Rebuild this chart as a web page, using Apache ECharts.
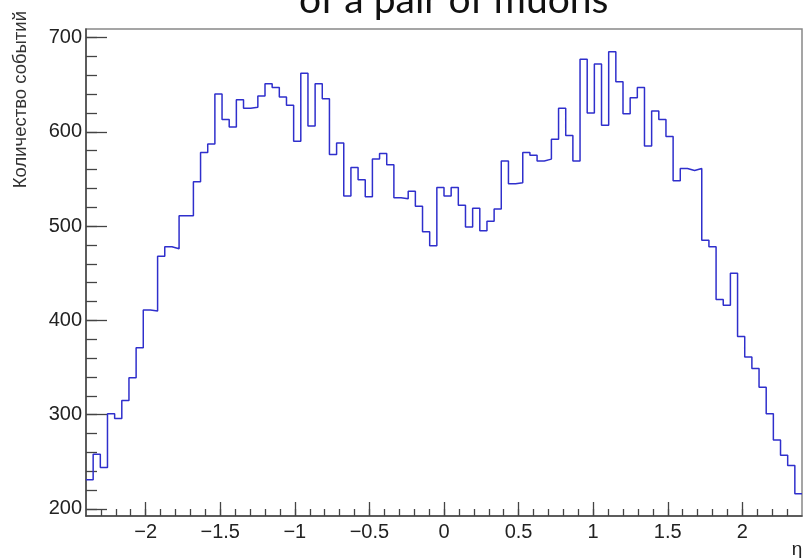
<!DOCTYPE html>
<html>
<head>
<meta charset="utf-8">
<script src="https://cdn.jsdelivr.net/npm/echarts@6/dist/echarts.min.js"></script>
<style>
html,body{margin:0;padding:0;background:#fff;}
#chart{width:803px;height:558px;}
</style>
</head>
<body>
<div id="chart"></div>
<script>
// Histogram of eta, 100 bins from -2.4 to 2.4
const binMin = -2.4;
const binMax = 2.4;
const counts = [
  231, 258, 244, 301, 296, 315, 339, 371, 411, 410,
  468, 478, 476, 511, 511, 547, 578, 587, 640, 613,
  605, 634, 625, 626, 638, 651, 647, 637, 628, 590,
  662, 606, 651, 635, 576, 588, 532, 562, 549, 531,
  571, 577, 565, 530, 529, 537, 521, 494, 479, 541,
  532, 541, 522, 499, 519, 495, 505, 518, 569, 545,
  546, 578, 575, 569, 571, 592, 625, 596, 569, 677,
  620, 672, 607, 685, 653, 619, 636, 647, 585, 622,
  613, 595, 548, 561, 559, 561, 485, 478, 422, 416,
  450, 383, 361, 349, 329, 301, 273, 257, 246, 216
];
const xMajorTicks = [-2, -1.5, -1, -0.5, 0, 0.5, 1, 1.5, 2];
const yMajorTicks = [200, 300, 400, 500, 600, 700];
const yRange = [192.5, 709];
const titleText = 'of a pair of muons';
const yTitle = 'Количество событий';
const xTitle = 'η';

const nb = counts.length;
const w = (binMax - binMin) / nb;
const data = counts.map((v, i) => [binMin + i * w, v]);
data.push([binMax, counts[nb - 1]]);

const xMinor = [];
for (let k = -23; k <= 23; k++) xMinor.push(k / 10);
const yMinor = [];
for (let v = 200; v <= 700; v += 20) yMinor.push(v);

const fmtX = v => {
  const r = Math.round(v * 10) / 10;
  return r < 0 ? '\u2212' + Math.abs(r) : String(r);
};

const axisCol = '#444';
const font = 'Liberation Sans, Arial, sans-serif';

const chart = echarts.init(document.getElementById('chart'), null, {renderer: 'canvas'});
chart.setOption({
  animation: false,
  backgroundColor: '#fff',
  title: {
    text: titleText,
    left: 294,
    top: -24,
    textStyle: {fontFamily: 'Lato, sans-serif', fontSize: 39, fontWeight: 'normal', color: '#111', lineHeight: 39}
  },
  grid: {
    left: 86, right: 1, top: 29, bottom: 42,
    show: true, borderColor: '#888', borderWidth: 1.5, backgroundColor: 'transparent',
    outerBoundsMode: 'none'
  },
  xAxis: [{
    type: 'value', min: binMin, max: binMax, position: 'bottom',
    axisLine: {onZero: false, lineStyle: {color: axisCol, width: 1.5}},
    axisTick: {inside: true, length: 14, customValues: xMajorTicks, lineStyle: {color: axisCol, width: 1.3}},
    axisLabel: {customValues: xMajorTicks, formatter: fmtX, margin: 6, fontSize: 20, fontFamily: font, color: '#222'},
    splitLine: {show: false}
  }, {
    type: 'value', min: binMin, max: binMax, position: 'bottom',
    axisLine: {show: false, onZero: false},
    axisTick: {inside: true, length: 7, customValues: xMinor, lineStyle: {color: axisCol, width: 1.3}},
    axisLabel: {show: false},
    splitLine: {show: false}
  }],
  yAxis: [{
    type: 'value', min: yRange[0], max: yRange[1], position: 'left',
    axisLine: {show: true, onZero: false, lineStyle: {color: axisCol, width: 1.5}},
    axisTick: {show: true, inside: true, length: 21, customValues: yMajorTicks, lineStyle: {color: axisCol, width: 1.3}},
    axisLabel: {customValues: yMajorTicks, margin: 4, fontSize: 20, fontFamily: font, color: '#222'},
    splitLine: {show: false}
  }, {
    type: 'value', min: yRange[0], max: yRange[1], position: 'left',
    axisLine: {show: false, onZero: false},
    axisTick: {show: true, inside: true, length: 11, customValues: yMinor, lineStyle: {color: axisCol, width: 1.3}},
    axisLabel: {show: false},
    splitLine: {show: false}
  }],
  graphic: [{
    type: 'text', x: 21, y: 11, rotation: Math.PI / 2,
    style: {text: yTitle, fontSize: 18.5, fontFamily: font, fill: '#333', align: 'right', verticalAlign: 'middle'}
  }, {
    type: 'text', x: 797, y: 550,
    style: {text: xTitle, fontSize: 19, fontFamily: font, fill: '#222', align: 'center', verticalAlign: 'middle'}
  }],
  series: [{
    type: 'line', step: 'end', data: data, showSymbol: false, symbol: 'none',
    xAxisIndex: 0, yAxisIndex: 0,
    lineStyle: {color: '#2f2fcc', width: 1.5}, clip: true
  }]
});
</script>
</body>
</html>
